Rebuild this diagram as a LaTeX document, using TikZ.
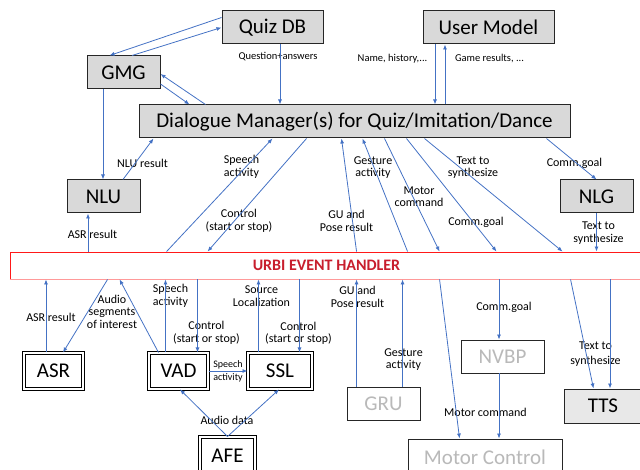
\documentclass[tikz,border=0pt]{standalone}
\usepackage{fontspec}
\setmainfont{Carlito}
\usepackage{xcolor}
\usepackage{tikz}
\usetikzlibrary{arrows.meta}
\definecolor{msgblue}{RGB}{68,114,196}
\definecolor{modgray}{RGB}{217,217,217}
\definecolor{urbired}{RGB}{200,30,45}
\definecolor{offgray}{RGB}{185,185,185}
\tikzset{
  modbox/.style={
    rectangle,
    draw=black!85,
    line width=1pt,
    fill=modgray,
    minimum height=33pt,
    inner sep=2pt,
    font=\fontsize{21}{24}\selectfont
  },
  iobox/.style={
    rectangle,
    draw=black,
    line width=1pt,
    double=white,
    double distance=1.5pt,
    fill=white,
    minimum height=36pt,
    inner sep=2pt,
    font=\fontsize{21}{24}\selectfont
  },
  offbox/.style={
    rectangle,
    draw=black!85,
    line width=0.9pt,
    fill=white,
    text=offgray,
    minimum height=33pt,
    inner sep=2pt,
    font=\fontsize{21}{24}\selectfont
  },
  urbibar/.style={
    rectangle,
    draw=red!90,
    line width=0.9pt,
    fill=white,
    minimum height=27pt,
    text=urbired,
    font=\fontsize{16}{18}\selectfont\bfseries
  },
  msgarrow/.style={
    -{Latex[length=5pt,width=4pt]},
    line width=0.8pt,
    draw=msgblue
  },
  msglabel/.style={
    align=center,
    inner sep=0pt,
    font=\fontsize{12}{12.5}\selectfont
  },
  smalllabel/.style={
    align=center,
    inner sep=0pt,
    font=\fontsize{10.5}{12.5}\selectfont
  }
}

\begin{document}
\begin{tikzpicture}[x=1pt, y=-1pt]
\useasboundingbox (0,0) rectangle (640,470);
\node[modbox, minimum width=101pt] (qdb) at (272.5,27.5) {Quiz DB};
\node[modbox, minimum width=131pt] (um) at (488.5,27.5) {User Model};
\node[modbox, minimum width=73pt] (gmg) at (123.5,72.5) {GMG};
\node[modbox, minimum width=431pt] (dm) at (354.5,121.5) {Dialogue Manager(s) for Quiz/Imitation/Dance};
\node[modbox, minimum width=73pt] (nlu) at (103.5,196.5) {NLU};
\node[modbox, minimum width=73pt] (nlg) at (596.5,196.5) {NLG};
\node[urbibar, minimum width=633pt] (urbi) at (326.5,265.5) {URBI EVENT HANDLER};
\draw[red!40, line width=1.2pt] (urbi.south west) -- (urbi.south east);
\node[iobox, minimum width=59pt] (asr) at (53.5,371) {ASR};
\node[iobox, minimum width=59pt] (vad) at (178.5,371) {VAD};
\node[iobox, minimum width=64pt] (ssl) at (280,371) {SSL};
\node[iobox, minimum width=55pt, minimum height=38pt] (afe) at (227.5,456) {AFE};
\node[offbox, minimum width=73pt] (gru) at (383.5,403.5) {GRU};
\node[offbox, minimum width=83pt] (nvbp) at (502.5,356.5) {NVBP};
\node[offbox, minimum width=154pt, minimum height=36pt] (mc) at (485,457) {Motor Control};
\node[modbox, fill=gray!18, minimum width=78pt, minimum height=34pt] (tts) at (603,406) {TTS};

\node[smalllabel] (lqa) at (278,57) {Question+answers};
\node[smalllabel] (lname) at (392.5,59) {Name, history,...};
\node[smalllabel] (lgame) at (489.5,59) {Game results, ...};
\node[msglabel] (lnlu) at (142.5,163) {NLU result};
\node[msglabel] (lasr) at (92.5,234) {ASR result};
\node[msglabel] (lspeech) at (241.5,167) {Speech\\activity};
\node[msglabel] (lctrl) at (239,221) {Control\\(start or stop)};
\node[msglabel] (lgu) at (346.5,221) {GU and\\Pose result};
\node[msglabel] (lgest) at (373,167.5) {Gesture\\activity};
\node[msglabel] (lmotor) at (419,196.5) {Motor\\command};
\node[msglabel] (lcomm) at (476,222) {Comm.goal};
\node[msglabel] (ltext) at (473,167.5) {Text to\\synthesize};
\node[msglabel] (lnlgcomm) at (574.5,163) {Comm.goal};
\node[msglabel] (lnlgtext) at (598.5,233) {Text to\\synthesize};
\node[msglabel] (lasrup) at (51,317) {ASR result};
\node[msglabel] (lseg) at (112,311.5) {Audio\\segments\\of interest};
\node[msglabel] (lvadsp) at (170.5,296) {Speech\\activity};
\node[msglabel] (lvadctrl) at (206.5,333) {Control\\(start or stop)};
\node[smalllabel, font=\fontsize{10}{13}\selectfont] (lvadssl) at (228,371.5) {Speech\\activity};
\node[msglabel] (lsrc) at (261.5,296) {Source\\Localization};
\node[msglabel] (lsslctrl) at (298.5,333.5) {Control\\(start or stop)};
\node[msglabel] (lgruup) at (357.5,297) {GU and\\Pose result};
\node[msglabel] (lgrugest) at (403.5,359.5) {Gesture\\activity};
\node[msglabel] (lnvbp) at (504,307) {Comm.goal};
\node[msglabel] (lmcmd) at (485.5,412) {Motor command};
\node[msglabel, font=\fontsize{12}{14.5}\selectfont] (lttstext) at (595.5,354) {Text to\\synthesize};
\node[msglabel] (laudio) at (227,420) {Audio data};

\draw[msgarrow] ([yshift=-7pt]qdb.north west) -- ([xshift=-14pt]gmg.north);
\draw[msgarrow] ([xshift=8.5pt]gmg.north) -- (qdb.west);
\draw[msgarrow] ([xshift=7.5pt]qdb.south) -- ([xshift=7.5pt]qdb.south |- dm.north);
\draw[msgarrow] ([xshift=67pt]dm.north west) -- ([yshift=-1.5pt]gmg.east);
\draw[msgarrow] ([yshift=-11.5pt]gmg.east) -- ([xshift=51pt]dm.north west);
\draw[msgarrow] ([xshift=-53.5pt]um.south) -- ([xshift=-53.5pt]um.south |- dm.north);
\draw[msgarrow] ([xshift=-43.5pt]um.south |- dm.north) -- ([xshift=-43.5pt]um.south);
\draw[msgarrow] ([xshift=-20.5pt]gmg.south) -- ([xshift=-20.5pt]gmg.south |- nlu.north);
\draw[msgarrow] ([xshift=19.5pt]nlu.north) -- ([xshift=15pt]dm.south west);
\draw[msgarrow] ([xshift=-15.5pt]nlu.south |- urbi.north) -- ([xshift=-15.5pt]nlu.south);
\draw[msgarrow] ([xshift=157pt]urbi.north west) -- ([xshift=134pt]dm.south west);
\draw[msgarrow] ([xshift=168pt]dm.south west) -- ([xshift=198pt]urbi.north west);
\draw[msgarrow] ([xshift=347pt]urbi.north west) -- ([xshift=203pt]dm.south west);
\draw[msgarrow] ([xshift=398pt]urbi.north west) -- ([xshift=224pt]dm.south west);
\draw[msgarrow] ([xshift=246pt]dm.south west) -- ([xshift=430pt]urbi.north west);
\draw[msgarrow] ([xshift=268pt]dm.south west) -- ([xshift=487pt]urbi.north west);
\draw[msgarrow] ([xshift=286pt]dm.south west) -- ([xshift=553pt]urbi.north west);
\draw[msgarrow] ([xshift=408pt]dm.south west) -- (nlg.north);
\draw[msgarrow] (nlg.south) -- (nlg.south |- urbi.north);

\draw[msgarrow] ([xshift=-7.5pt]asr.north) -- ([xshift=-7.5pt]asr.north |- urbi.south);
\draw[msgarrow] ([xshift=98pt]urbi.south west) -- ([xshift=9.5pt]asr.north);
\draw[msgarrow] ([xshift=10pt]vad.north west) -- ([xshift=110pt]urbi.south west);
\draw[msgarrow] ([xshift=17pt]vad.north west) -- ([xshift=17pt]vad.north west |- urbi.south);
\draw[msgarrow] ([xshift=49pt]vad.north west |- urbi.south) -- ([xshift=49pt]vad.north west);
\draw[msgarrow] (vad.east) -- (ssl.west);
\draw[msgarrow] ([xshift=11pt]ssl.north west) -- ([xshift=11pt]ssl.north west |- urbi.south);
\draw[msgarrow] ([xshift=52pt]ssl.north west |- urbi.south) -- ([xshift=52pt]ssl.north west);
\draw[msgarrow] (afe.north) -- ([xshift=1.5pt]vad.south);
\draw[msgarrow] (afe.north) -- ([xshift=-1pt]ssl.south);
\draw[msgarrow] ([xshift=10pt]gru.north west) -- ([xshift=10pt]gru.north west |- urbi.south);
\draw[msgarrow] ([xshift=56pt]gru.north west) -- ([xshift=56pt]gru.north west |- urbi.south);
\draw[msgarrow] ([xshift=430pt]urbi.south west) -- ([xshift=52pt]mc.north west);
\draw[msgarrow] ([xshift=-3.5pt]nvbp.north |- urbi.south) -- ([xshift=-3.5pt]nvbp.north);
\draw[msgarrow] ([xshift=-3.5pt]nvbp.south) -- ([xshift=-3.5pt]nvbp.south |- mc.north);
\draw[msgarrow] ([xshift=561pt]urbi.south west) -- ([xshift=30pt]tts.north west);
\draw[msgarrow] ([xshift=7pt]tts.north |- urbi.south) -- ([xshift=7pt]tts.north);
\end{tikzpicture}
\end{document}
